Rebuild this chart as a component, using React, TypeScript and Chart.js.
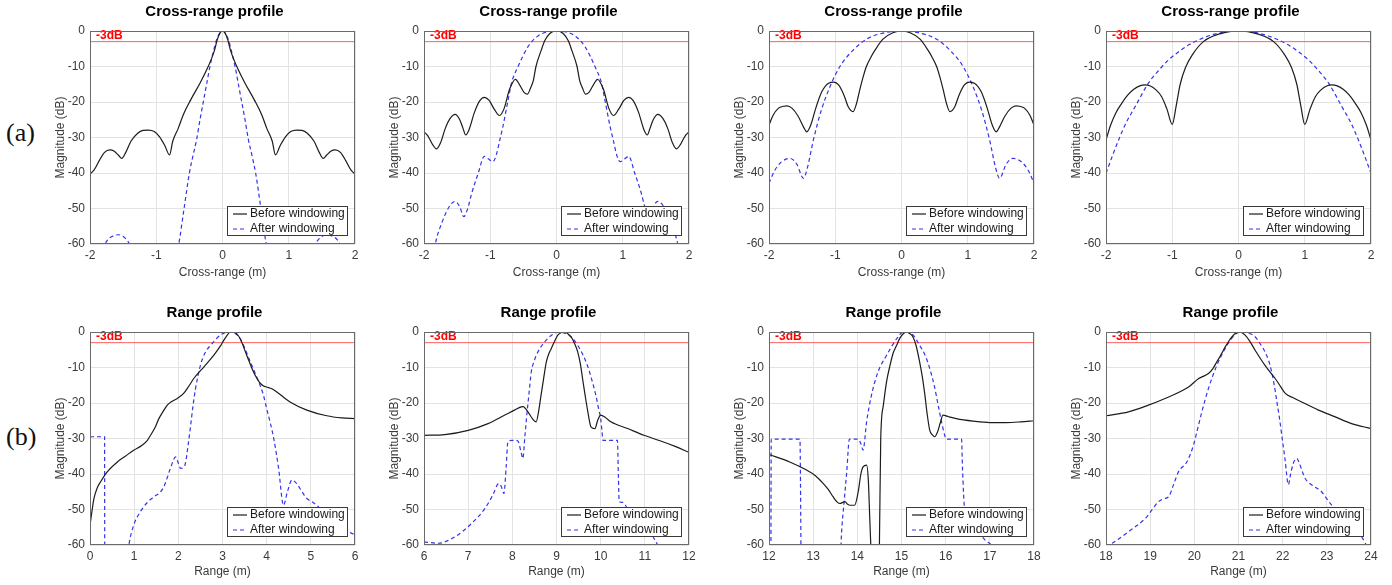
import React, { useEffect, useRef } from "react";
import { Chart, registerables } from "chart.js";

Chart.register(...registerables);

type Pt = [number, number];

// ---------- tick labels ----------
const crossRangeTicks = [-2, -1, 0, 1, 2];
const rangeTicksA = [0, 1, 2, 3, 4, 5, 6];
const rangeTicksB = [6, 7, 8, 9, 10, 11, 12];
const rangeTicksC = [12, 13, 14, 15, 16, 17, 18];
const rangeTicksD = [18, 19, 20, 21, 22, 23, 24];
const magnitudeTicks = [-60, -50, -40, -30, -20, -10, 0];
const thresholdDb = -3;
const thresholdLabel = "-3dB";
const seriesLabels = ["Before windowing", "After windowing"];
const rowLabels = ["(a)", "(b)"];

// ---------- cross-range profiles (row a) ----------
const crBefore1: Pt[] = [
  [-2, -40.3], [-1.94, -39.2], [-1.86, -36.5], [-1.78, -34.2], [-1.7, -33.5], [-1.64, -33.8], [-1.57, -35], [-1.52, -35.9],
  [-1.46, -34.2], [-1.38, -31], [-1.28, -28.8], [-1.2, -28], [-1.12, -27.9], [-1.03, -28.3], [-0.95, -29.8], [-0.87, -32.3],
  [-0.8, -34.9], [-0.75, -31], [-0.67, -27.5], [-0.59, -23.5], [-0.48, -19.4], [-0.34, -14.7], [-0.24, -11], [-0.17, -8],
  [-0.12, -5.4], [-0.08, -2.5], [-0.04, -0.6], [0, 0], [0.04, -0.6], [0.08, -2.5], [0.12, -5.4], [0.17, -8], [0.24, -11],
  [0.34, -14.7], [0.48, -19.4], [0.59, -23.5], [0.67, -27.5], [0.75, -31], [0.8, -34.9], [0.87, -32.3], [0.95, -29.8],
  [1.03, -28.3], [1.12, -27.9], [1.2, -28], [1.28, -28.8], [1.38, -31], [1.46, -34.2], [1.52, -35.9], [1.57, -35],
  [1.64, -33.8], [1.7, -33.5], [1.78, -34.2], [1.86, -36.5], [1.94, -39.2], [2, -40.3],
];
const crAfter1: Pt[] = [
  [-2, -85], [-1.88, -68], [-1.8, -61.5], [-1.74, -59], [-1.66, -57.8], [-1.57, -57.4], [-1.49, -58], [-1.43, -59.2],
  [-1.38, -61], [-1.3, -66], [-1.1, -80], [-0.9, -78], [-0.76, -68], [-0.66, -60], [-0.58, -50], [-0.5, -40],
  [-0.45, -35.5], [-0.39, -30.5], [-0.34, -25], [-0.29, -20], [-0.24, -15], [-0.19, -10], [-0.14, -6], [-0.09, -2.5],
  [-0.04, -0.6], [0, 0], [0.04, -0.6], [0.09, -2.5], [0.14, -6], [0.19, -10], [0.24, -15], [0.29, -20], [0.34, -25],
  [0.39, -30.5], [0.45, -35.5], [0.5, -40], [0.58, -50], [0.66, -60], [0.76, -68], [0.9, -78], [1.1, -80], [1.3, -66],
  [1.38, -61], [1.43, -59.2], [1.49, -58], [1.57, -57.4], [1.66, -57.8], [1.74, -59], [1.8, -61.5], [1.88, -68], [2, -85],
];
const crBefore2: Pt[] = [
  [-2, -28.4], [-1.94, -29.6], [-1.87, -32], [-1.81, -33.2], [-1.75, -31.5], [-1.68, -27.5], [-1.6, -24.5], [-1.53, -23.5],
  [-1.46, -25], [-1.41, -27.5], [-1.37, -29.3], [-1.32, -27.8], [-1.24, -23], [-1.16, -19.7], [-1.09, -18.7], [-1.02, -19.5],
  [-0.94, -22], [-0.86, -23.8], [-0.79, -21.8], [-0.71, -16.5], [-0.62, -13.6], [-0.55, -15.4], [-0.49, -17.3], [-0.44, -17.8],
  [-0.39, -16], [-0.35, -14], [-0.31, -10], [-0.23, -5.4], [-0.18, -2.8], [-0.1, -0.7], [0, 0], [0.1, -0.7], [0.18, -2.8],
  [0.23, -5.4], [0.31, -10], [0.35, -14], [0.39, -16], [0.44, -17.8], [0.49, -17.3], [0.55, -15.4], [0.62, -13.6],
  [0.71, -16.5], [0.79, -21.8], [0.86, -23.8], [0.94, -22], [1.02, -19.5], [1.09, -18.7], [1.16, -19.7], [1.24, -23],
  [1.32, -27.8], [1.37, -29.3], [1.41, -27.5], [1.46, -25], [1.53, -23.5], [1.6, -24.5], [1.68, -27.5], [1.75, -31.5],
  [1.81, -33.2], [1.87, -32], [1.94, -29.6], [2, -28.4],
];
const crAfter2: Pt[] = [
  [-2, -85], [-1.9, -68], [-1.83, -60], [-1.73, -54], [-1.62, -49.5], [-1.53, -48], [-1.46, -49.5], [-1.4, -52.3],
  [-1.34, -50], [-1.28, -45.7], [-1.18, -40], [-1.09, -35.3], [-1.03, -36], [-0.96, -36.8], [-0.91, -35], [-0.86, -31],
  [-0.81, -27], [-0.73, -19.4], [-0.68, -14.7], [-0.58, -10], [-0.43, -4.4], [-0.28, -1.4], [-0.13, -0.2], [0, 0],
  [0.13, -0.2], [0.28, -1.4], [0.43, -4.4], [0.58, -10], [0.68, -14.7], [0.73, -19.4], [0.81, -27], [0.86, -31],
  [0.91, -35], [0.96, -36.8], [1.03, -36], [1.09, -35.3], [1.18, -40], [1.28, -45.7], [1.34, -50], [1.4, -52.3],
  [1.46, -49.5], [1.53, -48], [1.62, -49.5], [1.73, -54], [1.83, -60], [1.9, -68], [2, -85],
];
const crBefore3: Pt[] = [
  [-2, -26.5], [-1.94, -23.8], [-1.86, -21.8], [-1.78, -21.2], [-1.73, -21.1], [-1.65, -21.8], [-1.56, -24], [-1.48, -27],
  [-1.43, -28.4], [-1.37, -26.5], [-1.29, -21.5], [-1.2, -17], [-1.1, -14.7], [-1.02, -14.4], [-0.95, -15.2], [-0.87, -18],
  [-0.8, -21.5], [-0.73, -22.7], [-0.68, -20.5], [-0.63, -16.6], [-0.58, -13], [-0.53, -10], [-0.46, -7.3], [-0.4, -5.4],
  [-0.28, -2.3], [-0.13, -0.5], [0, 0], [0.13, -0.5], [0.28, -2.3], [0.4, -5.4], [0.46, -7.3], [0.53, -10], [0.58, -13],
  [0.63, -16.6], [0.68, -20.5], [0.73, -22.7], [0.8, -21.5], [0.87, -18], [0.95, -15.2], [1.02, -14.4], [1.1, -14.7],
  [1.2, -17], [1.29, -21.5], [1.37, -26.5], [1.43, -28.4], [1.48, -27], [1.56, -24], [1.65, -21.8], [1.73, -21.1],
  [1.78, -21.2], [1.86, -21.8], [1.94, -23.8], [2, -26.5],
];
const crAfter3: Pt[] = [
  [-2, -42.9], [-1.92, -39.5], [-1.82, -37], [-1.68, -35.9], [-1.58, -37.5], [-1.48, -41.5], [-1.42, -38.5], [-1.33, -30.7],
  [-1.21, -22.3], [-1.08, -15.7], [-0.93, -10], [-0.73, -5.4], [-0.53, -2.3], [-0.28, -0.6], [0, 0], [0.28, -0.6],
  [0.53, -2.3], [0.73, -5.4], [0.93, -10], [1.08, -15.7], [1.21, -22.3], [1.33, -30.7], [1.42, -38.5], [1.48, -41.5],
  [1.58, -37.5], [1.68, -35.9], [1.82, -37], [1.92, -39.5], [2, -42.9],
];
const crBefore4: Pt[] = [
  [-2, -30.7], [-1.93, -26.5], [-1.85, -23], [-1.76, -20.3], [-1.67, -18], [-1.58, -16.4], [-1.48, -15.4], [-1.41, -15.2],
  [-1.33, -15.5], [-1.25, -16.5], [-1.16, -18.5], [-1.08, -22], [-1.0, -26.3], [-0.94, -21], [-0.88, -15], [-0.8, -10.3],
  [-0.7, -6.8], [-0.53, -3], [-0.3, -0.9], [0, 0], [0.3, -0.9], [0.53, -3], [0.7, -6.8], [0.8, -10.3], [0.88, -15],
  [0.94, -21], [1.0, -26.3], [1.08, -22], [1.16, -18.5], [1.25, -16.5], [1.33, -15.5], [1.41, -15.2], [1.48, -15.4],
  [1.58, -16.4], [1.67, -18], [1.76, -20.3], [1.85, -23], [1.93, -26.5], [2, -30.7],
];
const crAfter4: Pt[] = [
  [-2, -40.1], [-1.9, -35], [-1.81, -30.7], [-1.7, -26], [-1.56, -21.3], [-1.36, -14.7], [-1.21, -11.2], [-1.06, -8.2],
  [-0.9, -5.8], [-0.75, -3.9], [-0.4, -1.1], [0, 0], [0.4, -1.1], [0.75, -3.9], [0.9, -5.8], [1.06, -8.2], [1.21, -11.2],
  [1.36, -14.7], [1.56, -21.3], [1.7, -26], [1.81, -30.7], [1.9, -35], [2, -40.1],
];

// ---------- range profiles (row b) ----------
const rgBefore1: Pt[] = [
  [0, -54.4], [0.05, -50], [0.09, -46.9], [0.16, -44], [0.24, -42.2], [0.39, -39.4], [0.62, -36.6], [0.8, -35],
  [0.99, -33.3], [1.18, -31.9], [1.3, -30.5], [1.37, -29.1], [1.47, -27], [1.56, -24.4], [1.66, -22.3], [1.75, -20.6],
  [1.86, -19.5], [1.97, -18.8], [2.12, -17.3], [2.25, -15], [2.35, -13.1], [2.58, -9.8], [2.8, -6.6], [2.95, -4],
  [3.03, -2.3], [3.1, -1], [3.18, 0], [3.24, -0.1], [3.29, -0.2], [3.4, -1.9], [3.55, -6.6], [3.7, -11.2], [3.8, -13.5],
  [3.86, -14.5], [3.93, -15.2], [4.0, -15.5], [4.12, -16], [4.23, -16.9], [4.53, -19.7], [4.91, -22], [5.36, -23.6],
  [5.7, -24.2], [6, -24.4],
];
const rgAfter1: Pt[] = [
  [0, -29.5], [0.33, -29.5], [0.335, -80], [0.6, -85], [0.8, -68], [0.88, -60], [0.99, -54.4], [1.14, -50.6], [1.3, -48],
  [1.45, -46.4], [1.6, -45], [1.67, -43.6], [1.75, -41], [1.82, -38.4], [1.94, -35.2], [2.0, -37], [2.05, -38.4],
  [2.1, -38.3], [2.16, -37], [2.22, -32], [2.27, -27.2], [2.33, -21], [2.39, -15.9], [2.5, -9.4], [2.6, -6], [2.73, -3.75],
  [2.95, -0.9], [3.14, 0], [3.25, -0.2], [3.4, -1.9], [3.63, -8.4], [3.82, -14.1], [3.92, -17.5], [4.0, -21.6],
  [4.08, -25.5], [4.16, -30], [4.27, -38.4], [4.38, -48.8], [4.47, -45], [4.57, -41.7], [4.68, -42.7], [4.8, -45],
  [4.91, -46.9], [5.05, -48], [5.21, -49.7], [5.35, -51.5], [5.51, -53.4], [5.75, -55.5], [6, -57.2],
];
const rgBefore2: Pt[] = [
  [6, -29.1], [6.47, -28.9], [7.0, -27.7], [7.45, -25.8], [7.83, -23.4], [8.05, -22], [8.2, -21.1], [8.25, -21],
  [8.3, -21.6], [8.38, -23], [8.46, -24.5], [8.54, -25.3], [8.6, -22], [8.65, -17.8], [8.71, -13], [8.77, -8.4],
  [8.83, -6], [8.88, -4.7], [8.95, -2.8], [9.03, -0.9], [9.1, -0.2], [9.18, 0], [9.25, -0.4], [9.33, -1.4], [9.4, -3],
  [9.48, -5.6], [9.54, -9], [9.59, -13.1], [9.65, -18], [9.71, -22.5], [9.78, -26.7], [9.87, -27.2], [9.93, -25],
  [10.0, -23.4], [10.1, -24], [10.23, -25.3], [10.61, -27.2], [10.98, -29.1], [11.36, -30.7], [11.7, -32.3], [12, -33.9],
];
const rgAfter2: Pt[] = [
  [6, -59.1], [6.32, -59.5], [6.7, -57.7], [7.08, -53.9], [7.38, -49.7], [7.56, -45.9], [7.69, -42.7], [7.75, -43.5],
  [7.81, -45.5], [7.86, -38], [7.9, -30.9], [8.0, -30.5], [8.09, -30.5], [8.14, -31], [8.2, -34], [8.24, -35.6],
  [8.28, -30], [8.32, -24.4], [8.38, -17], [8.43, -11.2], [8.5, -8], [8.58, -5.6], [8.73, -2.8], [8.9, -0.8], [9.05, 0],
  [9.15, -0.2], [9.26, -0.75], [9.38, -2], [9.48, -3.75], [9.6, -6.5], [9.71, -9.8], [9.8, -13.5], [9.89, -17.8],
  [9.96, -22], [10.0, -24.4], [10.03, -28], [10.05, -30.5], [10.38, -30.5], [10.4, -40], [10.42, -47.8], [10.5, -48],
  [10.56, -48.8], [10.65, -50.6], [10.8, -52.5], [10.98, -54.4], [11.15, -57], [11.29, -60], [11.5, -66], [12, -75],
];
const rgBefore3: Pt[] = [
  [12, -34.5], [12.47, -36.6], [12.85, -38.9], [13.05, -40.5], [13.23, -42.7], [13.35, -44.5], [13.45, -46.4],
  [13.55, -48], [13.61, -48.3], [13.67, -48], [13.72, -47.8], [13.78, -48.5], [13.83, -48.8], [13.94, -48.8],
  [14.02, -45], [14.08, -40], [14.13, -38], [14.21, -37.5], [14.25, -42], [14.28, -52], [14.32, -65], [14.38, -85],
  [14.46, -85], [14.5, -60], [14.53, -30], [14.59, -20.6], [14.66, -14.1], [14.74, -9.4], [14.81, -6], [14.89, -3.75],
  [14.96, -1.8], [15.04, -0.5], [15.11, 0], [15.18, -0.4], [15.26, -1.4], [15.33, -3.8], [15.41, -8.4], [15.47, -12.5],
  [15.53, -17.8], [15.58, -23], [15.64, -27.7], [15.7, -29], [15.75, -29.5], [15.82, -28], [15.88, -25.5], [15.94, -23.4],
  [16.05, -23.8], [16.24, -24.4], [16.62, -25.1], [17.0, -25.5], [17.37, -25.5], [17.7, -25.3], [18, -25],
];
const rgAfter3: Pt[] = [
  [12, -80], [12.04, -80], [12.05, -30.2], [12.7, -30.2], [12.74, -80], [13.2, -90], [13.6, -70], [13.64, -57.2],
  [13.7, -48], [13.76, -39.4], [13.82, -30.2], [14.02, -30.2], [14.08, -31.5], [14.13, -33.3], [14.21, -25.3],
  [14.32, -17.8], [14.47, -11.2], [14.66, -6.6], [14.89, -1.9], [15.04, 0], [15.23, -0.5], [15.41, -3.75], [15.55, -7],
  [15.64, -10.3], [15.74, -15], [15.83, -20.6], [15.94, -27.2], [16.02, -30.2], [16.36, -30.2], [16.38, -38],
  [16.43, -49.7], [16.6, -52], [16.85, -58], [17.03, -60], [17.3, -66], [18, -75],
];
const rgBefore4: Pt[] = [
  [18, -23.6], [18.51, -22.5], [18.96, -20.6], [19.42, -18.3], [19.87, -15.5], [20.1, -13.1], [20.2, -12.5],
  [20.32, -11.7], [20.42, -10.3], [20.51, -8.4], [20.6, -6.5], [20.7, -4.2], [20.78, -2.6], [20.85, -1.4], [20.92, -0.5],
  [21.0, 0], [21.08, -0.2], [21.15, -0.9], [21.25, -2.5], [21.38, -5.2], [21.6, -9.4], [21.83, -13.1], [21.95, -15.3],
  [22.06, -17.3], [22.25, -18.6], [22.43, -19.7], [22.81, -22], [23.19, -23.9], [23.56, -25.8], [24, -27.2],
];
const rgAfter4: Pt[] = [
  [18, -60.5], [18.14, -59.5], [18.51, -56.25], [18.89, -52.5], [19.19, -47.8], [19.3, -47], [19.42, -46.4], [19.53, -43],
  [19.64, -39.4], [19.83, -36.6], [19.98, -31.9], [20.08, -27], [20.17, -22.5], [20.32, -15.9], [20.51, -9.4],
  [20.74, -3.75], [20.92, -0.75], [21.05, 0], [21.15, 0], [21.25, -0.4], [21.38, -1.4], [21.5, -3.5], [21.6, -5.6],
  [21.68, -8], [21.75, -11.2], [21.81, -15], [21.87, -19.7], [21.93, -24.5], [21.98, -29.1], [22.05, -35.5], [22.13, -43],
  [22.18, -40], [22.24, -37], [22.32, -35.6], [22.38, -37], [22.45, -39.5], [22.51, -41.25], [22.66, -43.1], [22.88, -45],
  [23.0, -47], [23.11, -48.75], [23.25, -50], [23.41, -50.6], [23.6, -54], [23.79, -57.7], [23.94, -61], [24, -62],
];

const crossTitle = "Cross-range profile";
const rangeTitle = "Range profile";
const crossAxisLabel = "Cross-range (m)";
const rangeAxisLabel = "Range (m)";
const magnitudeLabel = "Magnitude (dB)";

// ---------- layout (not data) ----------
const FONT = "'Liberation Sans', Arial, Helvetica, sans-serif";
const CANVAS_W = 330;
const CANVAS_H = 284;
const PLOT_W = 265;
const PLOT_H = 213;
const PAD_TOP = 31;
const Y_AXIS_W = 50;
const COL_LEFT = [40, 374, 719, 1056];
const ROW_TOP = [0, 301];

type Panel = {
  title: string;
  xLabel: string;
  ticks: number[];
  before: Pt[];
  after: Pt[];
  col: number;
  row: number;
};

const panels: Panel[] = [
  { title: crossTitle, xLabel: crossAxisLabel, ticks: crossRangeTicks, before: crBefore1, after: crAfter1, col: 0, row: 0 },
  { title: crossTitle, xLabel: crossAxisLabel, ticks: crossRangeTicks, before: crBefore2, after: crAfter2, col: 1, row: 0 },
  { title: crossTitle, xLabel: crossAxisLabel, ticks: crossRangeTicks, before: crBefore3, after: crAfter3, col: 2, row: 0 },
  { title: crossTitle, xLabel: crossAxisLabel, ticks: crossRangeTicks, before: crBefore4, after: crAfter4, col: 3, row: 0 },
  { title: rangeTitle, xLabel: rangeAxisLabel, ticks: rangeTicksA, before: rgBefore1, after: rgAfter1, col: 0, row: 1 },
  { title: rangeTitle, xLabel: rangeAxisLabel, ticks: rangeTicksB, before: rgBefore2, after: rgAfter2, col: 1, row: 1 },
  { title: rangeTitle, xLabel: rangeAxisLabel, ticks: rangeTicksC, before: rgBefore3, after: rgAfter3, col: 2, row: 1 },
  { title: rangeTitle, xLabel: rangeAxisLabel, ticks: rangeTicksD, before: rgBefore4, after: rgAfter4, col: 3, row: 1 },
];

const toXY = (pts: Pt[]) => pts.map(([x, y]) => ({ x, y }));

function makeDecor(title: string) {
  return {
    id: "decor",
    afterDatasetsDraw(chart: any) {
      const { ctx, chartArea: a } = chart;
      ctx.save();
      // -3dB label
      ctx.fillStyle = "#ff0000";
      ctx.font = `bold 12px ${FONT}`;
      ctx.textAlign = "left";
      ctx.textBaseline = "middle";
      ctx.fillText(thresholdLabel, a.left + 6, a.top + 5);
      // axes box
      ctx.strokeStyle = "#6a6a6a";
      ctx.lineWidth = 1;
      ctx.setLineDash([]);
      ctx.strokeRect(Math.round(a.left) + 0.5, Math.round(a.top) + 0.5, Math.round(a.right - a.left) - 1, Math.round(a.bottom - a.top) - 1);
      ctx.restore();
    },
    afterDraw(chart: any) {
      const { ctx, chartArea: a } = chart;
      ctx.save();
      // title
      ctx.fillStyle = "#000";
      ctx.font = `bold 15px ${FONT}`;
      ctx.textAlign = "center";
      ctx.textBaseline = "middle";
      ctx.fillText(title, (a.left + a.right) / 2 - 8, a.top - 19);
      // legend
      const w = 120;
      const h = 29;
      const bx = Math.round(a.right - 8 - w);
      const by = Math.round(a.bottom - 9 - h);
      ctx.fillStyle = "#fff";
      ctx.fillRect(bx, by, w, h);
      ctx.strokeStyle = "#3a3a3a";
      ctx.lineWidth = 1;
      ctx.setLineDash([]);
      ctx.strokeRect(bx + 0.5, by + 0.5, w, h);
      chart.data.datasets.slice(0, 2).forEach((ds: any, i: number) => {
        const y = by + 8 + i * 15;
        ctx.strokeStyle = ds.borderColor;
        ctx.lineWidth = ds.borderWidth;
        ctx.setLineDash(ds.borderDash || []);
        ctx.beginPath();
        ctx.moveTo(bx + 6, y);
        ctx.lineTo(bx + 20, y);
        ctx.stroke();
        ctx.setLineDash([]);
        ctx.fillStyle = "#1a1a1a";
        ctx.font = `12px ${FONT}`;
        ctx.textAlign = "left";
        ctx.textBaseline = "middle";
        ctx.fillText(ds.label, bx + 23, y);
      });
      ctx.restore();
    },
  };
}

function PanelChart({ p }: { p: Panel }) {
  const ref = useRef<HTMLCanvasElement | null>(null);
  useEffect(() => {
    if (!ref.current) return;
    const xmin = p.ticks[0];
    const xmax = p.ticks[p.ticks.length - 1];
    const chart = new Chart(ref.current, {
      type: "line",
      data: {
        datasets: [
          {
            label: seriesLabels[0],
            data: toXY(p.before),
            borderColor: "#1c1c1c",
            borderWidth: 1.2,
            pointRadius: 0,
            cubicInterpolationMode: "monotone",
            clip: 0,
            order: 0,
          },
          {
            label: seriesLabels[1],
            data: toXY(p.after),
            borderColor: "#3434e8",
            borderWidth: 1.2,
            borderDash: [4, 3],
            pointRadius: 0,
            cubicInterpolationMode: "monotone",
            clip: 0,
            order: 1,
          },
          {
            label: thresholdLabel,
            data: [
              { x: xmin, y: thresholdDb },
              { x: xmax, y: thresholdDb },
            ],
            borderColor: "#ff6060",
            borderWidth: 1,
            pointRadius: 0,
            clip: 0,
            order: 2,
          },
        ],
      } as any,
      options: {
        responsive: false,
        animation: false,
        devicePixelRatio: 1,
        events: [],
        layout: { padding: { left: 0, right: CANVAS_W - Y_AXIS_W - PLOT_W, top: PAD_TOP, bottom: 0 } },
        plugins: { legend: { display: false }, tooltip: { enabled: false }, title: { display: false } },
        scales: {
          x: {
            type: "linear",
            min: xmin,
            max: xmax,
            afterBuildTicks: (s: any) => {
              s.ticks = p.ticks.map((v) => ({ value: v }));
            },
            afterFit: (s: any) => {
              s.height = CANVAS_H - PAD_TOP - PLOT_H;
            },
            grid: { color: "#e3e3e3", drawTicks: false, lineWidth: 1 },
            border: { display: false },
            ticks: {
              padding: 4,
              autoSkip: false,
              maxRotation: 0,
              color: "#3a3a3a",
              font: { size: 12, family: FONT },
              callback: (v: any) => String(v),
            },
            title: {
              display: true,
              text: p.xLabel,
              color: "#3a3a3a",
              font: { size: 12, family: FONT },
              padding: { top: 0, bottom: p.row === 0 ? 4 : 6 },
            },
          },
          y: {
            type: "linear",
            min: magnitudeTicks[0],
            max: magnitudeTicks[magnitudeTicks.length - 1],
            afterBuildTicks: (s: any) => {
              s.ticks = magnitudeTicks.map((v) => ({ value: v }));
            },
            afterFit: (s: any) => {
              s.width = Y_AXIS_W;
            },
            grid: { color: "#e3e3e3", drawTicks: false, lineWidth: 1 },
            border: { display: false },
            ticks: {
              padding: 5,
              color: "#3a3a3a",
              font: { size: 12, family: FONT },
              callback: (v: any) => String(v),
            },
            title: {
              display: true,
              text: magnitudeLabel,
              color: "#3a3a3a",
              font: { size: 12, family: FONT },
              padding: { top: 13, bottom: 0 },
            },
          },
        },
      } as any,
      plugins: [makeDecor(p.title)],
    });
    return () => chart.destroy();
  }, [p]);

  return (
    <canvas
      ref={ref}
      width={CANVAS_W}
      height={CANVAS_H}
      style={{
        position: "absolute",
        left: COL_LEFT[p.col],
        top: ROW_TOP[p.row],
        width: CANVAS_W,
        height: CANVAS_H,
        display: "block",
      }}
    />
  );
}

export default function App() {
  return (
    <div
      style={{
        position: "absolute",
        left: 0,
        top: 0,
        width: 1392,
        height: 585,
        background: "#fff",
        overflow: "hidden",
      }}
    >
      {rowLabels.map((t, i) => (
        <div
          key={t}
          style={{
            position: "absolute",
            left: 6,
            top: i === 0 ? 120 : 424,
            fontFamily: "'Liberation Serif', 'Times New Roman', serif",
            fontSize: 26,
            lineHeight: "26px",
            color: "#111",
          }}
        >
          {t}
        </div>
      ))}
      {panels.map((p, i) => (
        <PanelChart key={i} p={p} />
      ))}
    </div>
  );
}
